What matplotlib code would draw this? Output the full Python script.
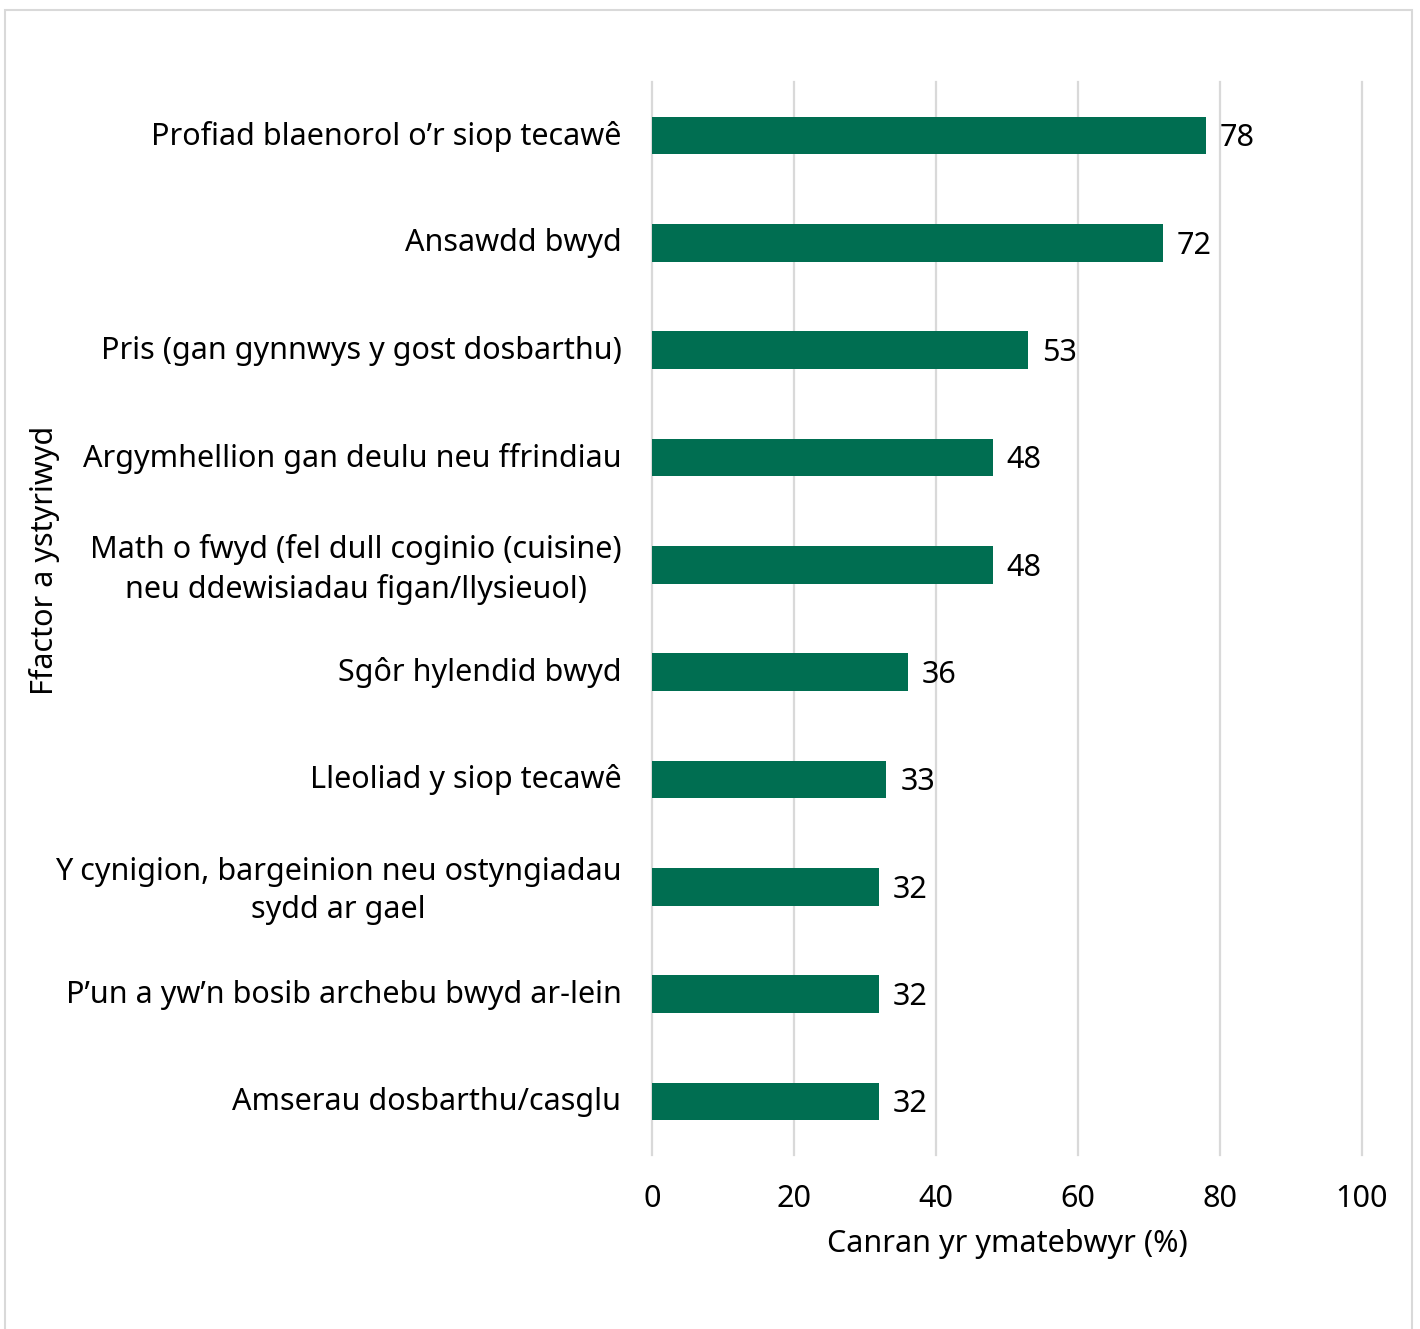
import matplotlib
matplotlib.use("Agg")
import matplotlib.pyplot as plt
from matplotlib.patches import Rectangle
from matplotlib.transforms import ScaledTranslation

categories = [
    "Profiad blaenorol o\u2019r siop tecaw\u00ea",
    "Ansawdd bwyd",
    "Pris (gan gynnwys y gost dosbarthu)",
    "Argymhellion gan deulu neu ffrindiau",
    "Math o fwyd (fel dull coginio (cuisine)\nneu ddewisiadau figan/llysieuol)",
    "Sg\u00f4r hylendid bwyd",
    "Lleoliad y siop tecaw\u00ea",
    "Y cynigion, bargeinion neu ostyngiadau\nsydd ar gael",
    "P\u2019un a yw\u2019n bosib archebu bwyd ar-lein",
    "Amserau dosbarthu/casglu",
]
values = [78, 72, 53, 48, 48, 36, 33, 32, 32, 32]
xticks = [0, 20, 40, 60, 80, 100]
xlabel = "Canran yr ymatebwyr (%)"
ylabel = "Ffactor a ystyriwyd"

plt.rcParams['font.family'] = ['Noto Sans', 'DejaVu Sans']
W, H = 1420, 1329
fig = plt.figure(figsize=(W/100, H/100), dpi=100)
ax = fig.add_axes([652/W, 1-1155/H, 710/W, 1073/H])

FS = 22
green = "#006E51"
ypos = list(range(len(categories)))
ax.barh(ypos, values, height=0.35, color=green, zorder=3)
ax.set_ylim(9.5, -0.5)
ax.set_xlim(0, 100)
ax.set_xticks(xticks)
ax.set_xticklabels([str(t) for t in xticks], fontsize=FS)
ax.set_yticks(ypos)
ax.set_yticklabels(categories, fontsize=FS, multialignment='center', linespacing=1.35)
ax.tick_params(axis='both', length=0)
ax.tick_params(axis='y', pad=22)
ax.tick_params(axis='x', pad=21)
shift = ScaledTranslation(0, 3/100, fig.dpi_scale_trans)
for lbl in ax.get_yticklabels():
    lbl.set_transform(lbl.get_transform() + shift)
for s in ax.spines.values():
    s.set_visible(False)
ax.grid(axis='x', color='#d9d9d9', linewidth=1.6, zorder=0)
for gl in ax.get_xgridlines():
    gl.set_clip_on(False)
ax.set_axisbelow(True)

for y, v in zip(ypos, values):
    ax.annotate(str(v), (v, y), xytext=(10, -2), textcoords='offset points',
                va='center', ha='left', fontsize=FS, color='black')

ax.set_xlabel(xlabel, fontsize=FS, labelpad=11)
fig.text(45/W, 1-560/H, ylabel, rotation=90, fontsize=FS, ha='center', va='center')

fig.patches.append(Rectangle((5/W, -0.05), 1407/W, 1.05-10/H, transform=fig.transFigure,
                             fill=False, edgecolor='#d9d9d9', linewidth=1.5))

fig.savefig("out.png", dpi=100)
